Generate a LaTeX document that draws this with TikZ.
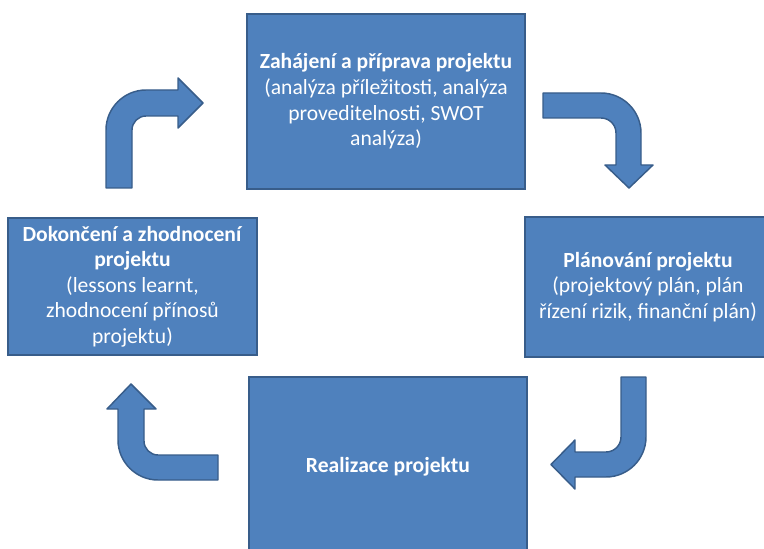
\documentclass[tikz,border=0pt]{standalone}
\usepackage{fontspec}
\setmainfont{Carlito}
\definecolor{boxfill}{HTML}{4F81BD}
\definecolor{boxline}{HTML}{385D8A}
\tikzset{
  phasebox/.style={draw=boxline, fill=boxfill, line width=1.3pt, inner sep=0pt,
    text=white, align=center, font=\fontsize{16.2}{19.2}\selectfont},
  blockarrow/.style={draw=boxline, fill=boxfill, line width=1.1pt, line join=round}
}
\begin{document}
\begin{tikzpicture}[x=0.75pt,y=-0.75pt]
\useasboundingbox (0,0) rectangle (764,549);
\clip (0,0) rectangle (764,549);
% boxes
\node[phasebox, minimum width=208.5pt, minimum height=131.25pt] (init) at (386,101.5)
  {\textbf{Zahájení a příprava projektu}\\(analýza příležitosti, analýza\\proveditelnosti, SWOT\\analýza)};
\node[phasebox, minimum width=184.5pt, minimum height=105pt] (plan) at (648,287)
  {\textbf{Plánování projektu}\\(projektový plán, plán\\řízení rizik, finanční plán)};
\node[phasebox, minimum width=208.5pt, minimum height=135pt] (real) at (388,467)
  {\textbf{Realizace projektu}};
\node[phasebox, minimum width=186.75pt, minimum height=102.75pt] (close) at (132.5,286.5)
  {\textbf{Dokončení a zhodnocení}\\\textbf{projektu}\\(lessons learnt,\\zhodnocení přínosů\\projektu)};
% arrow 1: up then right
\draw[blockarrow] (106,188) -- (106,130) .. controls (106,108) and (124,90) .. (146,90)
  -- (178,90) -- (178,78) -- (203,103) -- (178,128) -- (178,116) -- (146,116)
  .. controls (138.3,116) and (132,122.3) .. (132,130) -- (132,188) -- cycle;
% arrow 2: right then down
\draw[blockarrow] (543,93) -- (601,93) .. controls (623,93) and (641,111) .. (641,133)
  -- (641,165) -- (653,165) -- (629,188) -- (605,165) -- (616,165) -- (616,133)
  .. controls (616,124.7) and (609.3,118) .. (601,118) -- (543,118) -- cycle;
% arrow 3: down then left
\draw[blockarrow] (621,377) -- (646,377) -- (646,437) .. controls (646,459) and (628,477) .. (606,477)
  -- (575,477) -- (575,489) -- (551,464.5) -- (575,440) -- (575,452) -- (606,452)
  .. controls (614.3,452) and (621,445.3) .. (621,437) -- cycle;
% arrow 4: left then up
\draw[blockarrow] (218,455) -- (218,480) -- (158,480) .. controls (136,480) and (118,462) .. (118,440)
  -- (118,409) -- (107,409) -- (131,384) -- (156,409) -- (144,409) -- (144,441)
  .. controls (144,448.7) and (150.3,455) .. (158,455) -- cycle;
\end{tikzpicture}
\end{document}
